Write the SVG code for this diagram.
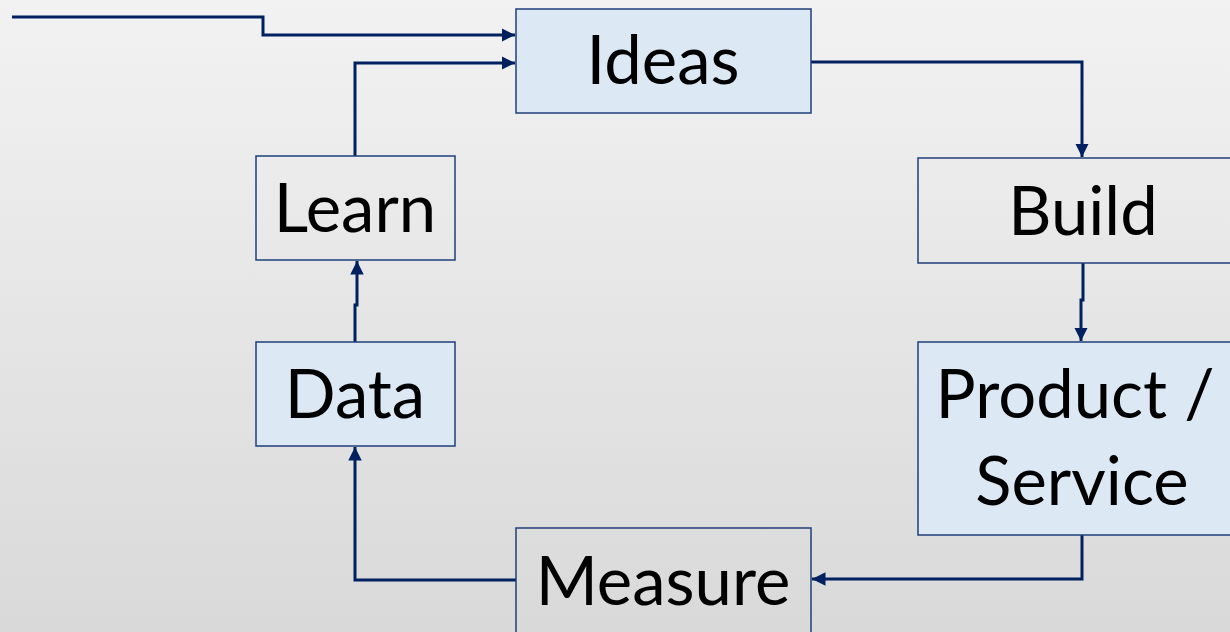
<svg xmlns="http://www.w3.org/2000/svg" width="1230" height="632" viewBox="0 0 1230 632">
  <defs>
    <linearGradient id="bg" x1="0" y1="0" x2="0" y2="1">
      <stop offset="0" stop-color="#f2f2f2"/>
      <stop offset="1" stop-color="#d9d9d9"/>
    </linearGradient>
    <marker id="arrow" viewBox="0 0 10 10" refX="10" refY="5" markerWidth="4.5" markerHeight="4.5" orient="auto" markerUnits="strokeWidth">
      <path d="M0,0 L10,5 L0,10 Z" fill="#002060"/>
    </marker>
    <style>
      .box { stroke: #1f3f7a; stroke-width: 1.5; }
      .blue { fill: #dde8f5; }
      .clear { fill: none; }
      .label { font-family: Lato, "Liberation Sans", sans-serif; font-size: 67px; fill: #000; text-anchor: middle; }
      .link { fill: none; stroke: #002060; stroke-width: 3; marker-end: url(#arrow); }
    </style>
  </defs>

  <rect x="0" y="0" width="1230" height="632" fill="url(#bg)"/>

  <!-- connectors -->
  <g id="connectors">
    <path class="link" d="M12,17 H263 V35 H515"/>
    <path class="link" d="M811,62 H1082 V157"/>
    <path class="link" d="M1083,263 V300 H1081 V341"/>
    <path class="link" d="M1082,535 V579 H812"/>
    <path class="link" d="M516,580 H355 V447"/>
    <path class="link" d="M355,342 V305 H357 V261"/>
    <path class="link" d="M355,156 V63 H515"/>
  </g>

  <g id="ideas">
    <rect class="box blue" x="516" y="9" width="295" height="104"/>
    <text class="label" x="663" y="84">Ideas</text>
  </g>

  <g id="build">
    <rect class="box clear" x="918" y="158" width="320" height="105"/>
    <text class="label" x="1083" y="235">Build</text>
  </g>

  <g id="product-service">
    <rect class="box blue" x="918" y="342" width="320" height="193"/>
    <text class="label" x="1075" y="418">Product /</text>
    <text class="label" x="1082" y="505">Service</text>
  </g>

  <g id="measure">
    <rect class="box clear" x="516" y="528" width="295" height="120"/>
    <text class="label" x="663" y="605">Measure</text>
  </g>

  <g id="data">
    <rect class="box blue" x="256" y="342" width="199" height="104"/>
    <text class="label" x="355" y="418">Data</text>
  </g>

  <g id="learn">
    <rect class="box clear" x="256" y="156" width="199" height="104"/>
    <text class="label" x="355" y="232">Learn</text>
  </g>
</svg>
